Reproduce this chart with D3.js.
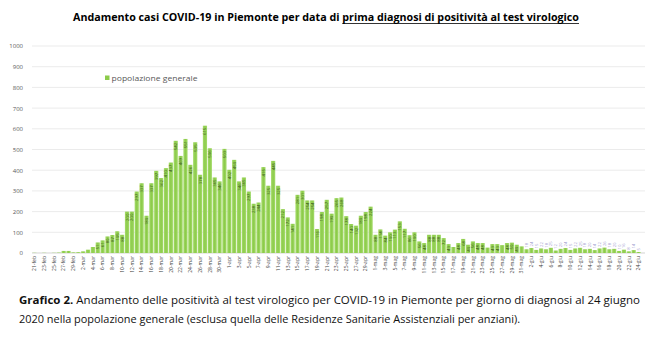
<!DOCTYPE html>
<html>
<head>
<meta charset="utf-8">
<script src="https://cdn.jsdelivr.net/npm/d3@7"></script>
<style>
  html, body { margin: 0; padding: 0; background: #fff; }
  svg { display: block; }
</style>
</head>
<body>
<svg id="chart" width="650" height="345"></svg>
<script>
// ---- data ----
const startDate = "2020-02-21";
const dayCount = 125; // 21 feb -> 24 giu
const monthNames = ["gen","feb","mar","apr","mag","giu","lug","ago","set","ott","nov","dic"];
const cases = [
  1, 0, 1, 0, 1, 2, 10, 10, 3,                                  // 21-29 feb
  4, 8, 16, 29, 51, 61, 80, 87, 105, 88, 200, 200, 297, 337, 180, 337,
  397, 362, 410, 437, 542, 469, 551, 426, 535, 378, 615, 506, 365, 346, 503, // mar
  402, 450, 346, 365, 297, 238, 244, 415, 325, 445, 325, 212, 172, 141, 281,
  301, 254, 254, 116, 198, 257, 190, 265, 268, 178, 140, 132, 180, 198, 224, // apr
  88, 114, 84, 100, 113, 153, 117, 86, 100, 56, 48, 88, 88, 88, 72,
  43, 29, 48, 68, 40, 56, 48, 48, 26, 43, 43, 38, 48, 50, 40, 32,     // mag
  18, 24, 15, 22, 18, 25, 12, 20, 24, 15, 22, 25, 18, 20, 14, 22,
  26, 18, 20, 10, 16, 8, 14, 5                                     // giu
];
const yTicks = [0,100,200,300,400,500,600,700,800,900,1000];
const seriesName = "popolazione generale";
const titleA = "Andamento casi COVID-19 in Piemonte per data di ";
const titleB = "prima diagnosi di positività al test virologico";
const captionBold = "Grafico 2.";
const captionLine1 = " Andamento delle positività al test virologico per COVID-19 in Piemonte per giorno di diagnosi al 24 giugno";
const captionLine2 = "2020 nella popolazione generale (esclusa quella delle Residenze Sanitarie Assistenziali per anziani).";

// ---- categories ----
const parse = d3.timeParse("%Y-%m-%d");
const days = d3.timeDay.range(parse(startDate), d3.timeDay.offset(parse(startDate), dayCount));
const labels = days.map(d => d.getDate() + "-" + monthNames[d.getMonth()]);
const data = labels.map((l, i) => ({ label: l, value: cases[i], i }));

const svg = d3.select("#chart");
svg.append("rect").attr("width", 650).attr("height", 345).attr("fill", "#fff");

const FONT = "'Open Sans', 'DejaVu Sans', sans-serif";
const x = d3.scaleBand().domain(labels).range([32, 641]).paddingInner(0.14).paddingOuter(0.07);
const y = d3.scaleLinear().domain([0, 1000]).range([253, 46]);

// grid
svg.append("g").selectAll("line").data(yTicks).join("line")
  .attr("x1", 32).attr("x2", 645)
  .attr("y1", d => y(d)).attr("y2", d => y(d))
  .attr("stroke", d => d === 0 ? "#bfbfbf" : "#e3e3e3").attr("stroke-width", 0.7);

// y axis labels
const yAxis = d3.axisLeft(y).tickValues(yTicks).tickFormat(d3.format("d")).tickSize(0).tickPadding(0);
const gy = svg.append("g").attr("transform", "translate(23,0)").call(yAxis);
gy.select(".domain").remove();
gy.selectAll("text").attr("font-family", FONT).attr("font-size", 6).attr("fill", "#595959");

// x axis labels (every 2 days)
const xAxis = d3.axisBottom(x).tickValues(labels.filter((l, i) => i % 2 === 0)).tickSize(0).tickPadding(0);
const gx = svg.append("g").attr("transform", "translate(0,256)").call(xAxis);
gx.select(".domain").remove();
gx.selectAll("text")
  .attr("font-family", FONT).attr("font-size", 5).attr("fill", "#404040")
  .attr("text-anchor", "end").attr("dy", "0.35em")
  .attr("transform", "rotate(-90)").attr("x", 0).attr("y", 0);

// bars
const grad = svg.append("defs").append("linearGradient").attr("id", "barg")
  .attr("x1", "0").attr("x2", "1").attr("y1", "0").attr("y2", "0");
grad.append("stop").attr("offset", "0").attr("stop-color", "#a6dc6c");
grad.append("stop").attr("offset", "0.5").attr("stop-color", "#8ccb4a");
grad.append("stop").attr("offset", "1").attr("stop-color", "#a6dc6c");

svg.append("g").selectAll("rect").data(data).join("rect")
  .attr("x", d => x(d.label)).attr("width", x.bandwidth())
  .attr("y", d => y(d.value)).attr("height", d => y(0) - y(d.value))
  .attr("fill", "url(#barg)");

// value labels
svg.append("g").selectAll("text").data(data.filter(d => d.value >= 40 || d.i > 100)).join("text")
  .attr("transform", d => {
    const cx = x(d.label) + x.bandwidth() / 2;
    const inside = d.value >= 40;
    const yy = inside ? y(d.value) + 2 : y(d.value) - 1.5;
    return `translate(${cx},${yy}) rotate(-90)`;
  })
  .attr("text-anchor", d => d.value >= 40 ? "end" : "start")
  .attr("dy", "0.35em")
  .attr("font-family", FONT).attr("font-size", 4.3)
  .attr("fill", d => d.value >= 40 ? "#3d5a1e" : "#a3a0d0")
  .text(d => d.value);

// legend
svg.append("rect").attr("x", 105).attr("y", 75.5).attr("width", 4.5).attr("height", 4.5).attr("fill", "#8ccb4a");
svg.append("text").attr("x", 111.5).attr("y", 80.5)
  .attr("font-family", FONT).attr("font-size", 7.5).attr("fill", "#595959")
  .attr("textLength", 86).attr("lengthAdjust", "spacingAndGlyphs")
  .text(seriesName);

// title
const tA = svg.append("text").attr("x", 73).attr("y", 21)
  .attr("font-family", FONT).attr("font-size", 10.2).attr("font-weight", "bold").attr("fill", "#000")
  .attr("xml:space", "preserve").text(titleA);
const wA = tA.node().getComputedTextLength();
const tB = svg.append("text").attr("x", 73 + wA).attr("y", 21)
  .attr("font-family", FONT).attr("font-size", 10.2).attr("font-weight", "bold").attr("fill", "#000")
  .text(titleB);
const targetTotal = 579 - 73;
const total = wA + tB.node().getComputedTextLength();
const s = targetTotal / total;
tA.attr("textLength", wA * s).attr("lengthAdjust", "spacingAndGlyphs");
tB.attr("x", 73 + wA * s).attr("textLength", tB.node().getComputedTextLength() * s).attr("lengthAdjust", "spacingAndGlyphs");
svg.append("line").attr("x1", 73 + wA * s).attr("x2", 579).attr("y1", 23.5).attr("y2", 23.5)
  .attr("stroke", "#000").attr("stroke-width", 0.8);

// caption
const c1 = svg.append("text").attr("x", 19).attr("y", 304)
  .attr("font-family", FONT).attr("font-size", 10).attr("fill", "#111")
  .attr("textLength", 640 - 19).attr("lengthAdjust", "spacingAndGlyphs");
c1.append("tspan").attr("font-weight", "bold").text(captionBold);
c1.append("tspan").text(captionLine1);
svg.append("text").attr("x", 19).attr("y", 323)
  .attr("font-family", FONT).attr("font-size", 10).attr("fill", "#111")
  .attr("textLength", 520 - 19).attr("lengthAdjust", "spacingAndGlyphs")
  .text(captionLine2);
</script>
</body>
</html>
